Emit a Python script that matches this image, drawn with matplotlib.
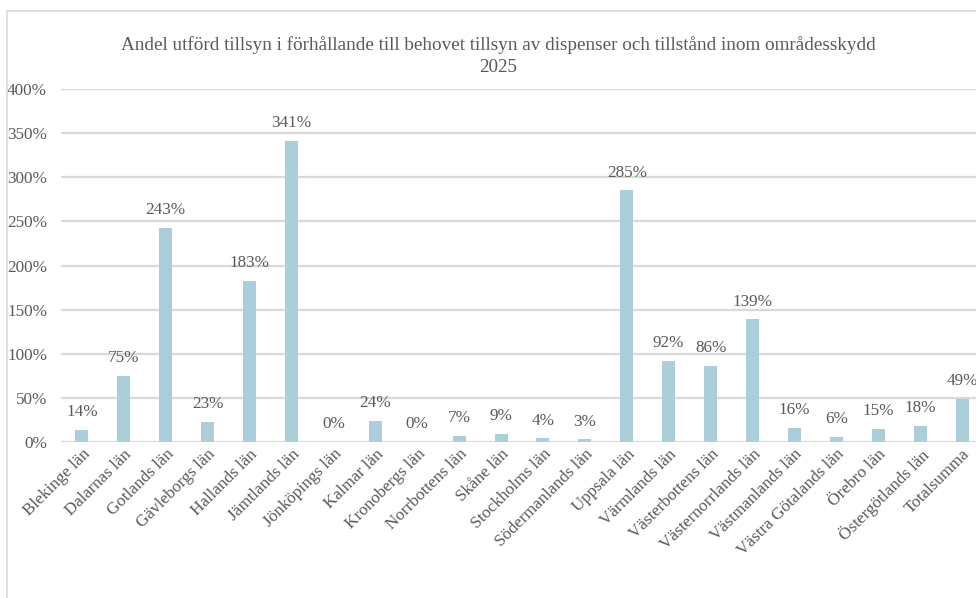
import matplotlib.pyplot as plt
from matplotlib.patches import Rectangle
from matplotlib.ticker import PercentFormatter

# Andel utförd tillsyn per län, 2025 (procent)
lan = ['Blekinge län', 'Dalarnas län', 'Gotlands län', 'Gävleborgs län',
       'Hallands län', 'Jämtlands län', 'Jönköpings län', 'Kalmar län',
       'Kronobergs län', 'Norrbottens län', 'Skåne län', 'Stockholms län',
       'Södermanlands län', 'Uppsala län', 'Värmlands län',
       'Västerbottens län', 'Västernorrlands län', 'Västmanlands län',
       'Västra Götalands län', 'Örebro län', 'Östergötlands län',
       'Totalsumma']
andel = [14, 75, 243, 23, 183, 341, 0, 24, 0, 7, 9, 4, 3, 285, 92, 86,
         139, 16, 6, 15, 18, 49]

text_color = '#595959'
grid_color = '#D9D9D9'
bar_color = '#AACFDB'

plt.rcParams['font.family'] = ['Liberation Serif', 'DejaVu Serif']

fig = plt.figure(figsize=(9.76, 5.98), dpi=100)
W, H = 976, 598

# chart area frame (runs off the right and bottom edges)
fig.patches.append(Rectangle((7 / W, -0.1), 1.2, 1 - 11 / H + 0.1,
                             transform=fig.transFigure, fill=False,
                             edgecolor=grid_color, linewidth=1.2))

ax = fig.add_axes([61 / W, 156 / H, 922 / W, 353 / H])
x = range(len(lan))
bars = ax.bar(x, andel, width=0.31, color=bar_color, zorder=3)

ax.set_xlim(-0.5, len(lan) - 0.5)
ax.set_ylim(0, 400)
ax.set_yticks(range(0, 401, 50))
ax.yaxis.set_major_formatter(PercentFormatter(decimals=0))
ax.grid(axis='y', color=grid_color, linewidth=1.6, zorder=0)
for s in ax.spines.values():
    s.set_visible(False)
ax.tick_params(length=0, colors=text_color, labelsize=12.3)
ax.tick_params(axis='y', pad=10)
ax.tick_params(axis='x', pad=3)
ax.set_xticks(list(x))
ax.set_xticklabels(lan, rotation=45, ha='right', rotation_mode='anchor')

for xi, v in zip(x, andel):
    ax.annotate(f'{v}%', (xi, v), xytext=(0, 7), textcoords='offset points',
                ha='center', va='bottom', fontsize=12.3, color=text_color)

fig.text(498 / W, 1 - 56 / H,
         'Andel utförd tillsyn i förhållande till behovet tillsyn av dispenser och tillstånd inom områdesskydd\n2025',
         ha='center', va='center', fontsize=13.8, color=text_color,
         linespacing=1.35)

fig.savefig('out.png', dpi=100)
